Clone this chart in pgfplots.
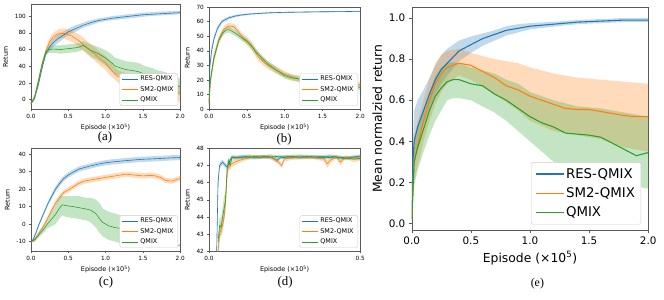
\documentclass[border=0pt]{standalone}
\usepackage{fontspec}
\setmainfont{DejaVu Sans}
\newfontfamily\capfont{Liberation Serif}
\usepackage{pgfplots}
\usepackage{pgfplotstable}
\pgfplotsset{compat=1.18}
\usepgfplotslibrary{fillbetween}
\definecolor{myblue}{HTML}{1F77B4}
\definecolor{myorange}{HTML}{FF7F0E}
\definecolor{mygreen}{HTML}{2CA02C}

% ---------- (a) ----------
\pgfplotstableread{
x m lo hi
0.00 -5 -6 -4
0.05 2 0 4
0.10 18 15 21
0.15 38 35 41
0.20 55 52 58
0.25 63 59 67
0.30 68 63 73
0.35 72 67 77
0.40 75 70 80
0.45 78 74 82
0.50 81 77 85
0.55 83 79 87
0.60 85 81 89
0.70 89 86 92
0.80 92 89 95
0.90 94.5 92 97
1.00 96 94 98.5
1.10 97.5 95 100
1.20 98.5 96 101
1.30 99.5 97 102
1.40 100.5 98 103
1.50 101.5 99 104
1.60 102 100 104.5
1.70 102.5 100.5 105
1.80 103 101 105.5
1.90 103.5 101.5 106
2.00 104 102 106
}\aB
\pgfplotstableread{
x m lo hi
0.00 -5 -6 -4
0.05 3 0 6
0.10 22 18 26
0.15 42 38 46
0.20 58 54 62
0.25 69 64 74
0.30 75 70 80
0.35 78 73 83
0.40 79.5 74 85
0.45 79 73 85
0.50 77.5 71 84
0.55 76 69 83
0.60 73 66 80
0.65 70 62 78
0.70 66 58 74
0.78 60 52 68
0.85 55 47 63
0.91 50 42 58
1.00 44 36 52
1.05 38 30 46
1.10 33 26 41
1.16 28 21 35
1.27 24 16 32
1.40 20 12 28
1.50 18 10 26
1.60 16 7 25
1.70 14 5 23
1.80 12 3 21
1.90 10 1 20
2.00 8 -3 18
}\aO
\pgfplotstableread{
x m lo hi
0.00 -5 -6 -4
0.05 3 0 6
0.10 22 18 26
0.15 42 38 46
0.20 57 54 60
0.25 60 56 64
0.30 60.5 56 65
0.40 60 55 65
0.50 61 56 66
0.60 62 57 67
0.65 63 58 68
0.70 65 60 70
0.75 62 56 68
0.80 59 52 66
0.90 55 47 63
1.00 50 41 59
1.07 45 35 55
1.13 40 30 50
1.20 38 28 48
1.27 36 26 46
1.35 35 25 45
1.44 33.5 23 44
1.53 30 20 40
1.62 28 18 38
1.70 25 15 35
1.80 23 13 33
1.90 19 9 29
2.00 15 5 25
}\aG

% ---------- (b) ----------
\pgfplotstableread{
x m lo hi
0.000 5 4 6
0.013 30 27 33
0.035 40 37 43
0.065 48 46 50
0.11 55 53.5 56.5
0.17 60 59 61
0.26 62.5 61.5 63.5
0.35 63.8 63 64.6
0.43 64.5 63.8 65.2
0.55 65.2 64.6 65.8
0.65 65.5 65 66
0.80 66 65.5 66.5
1.00 66.3 65.9 66.7
1.25 66.5 66.1 66.9
1.50 66.7 66.3 67.1
1.75 66.8 66.4 67.2
2.00 67 66.6 67.4
}\bB
\pgfplotstableread{
x m lo hi
0.000 4 3 5
0.02 20 17 23
0.065 35 32 38
0.13 48 46 50
0.20 55 53 57
0.26 57 55 59
0.33 56.5 54.5 58.5
0.39 53 51 55
0.45 49 47 51.5
0.50 47 44.5 49.5
0.57 43 40 46
0.65 36 33 39
0.72 32.5 30 35
0.78 30 27.5 32.5
0.90 26.5 24 29
1.00 24 22 26
1.10 22 20 24
1.22 20.5 18.5 22.5
1.35 20 18 22
1.50 19.5 17.5 21.5
1.60 19 17 21.5
1.74 18 16 20
1.87 17.5 15.5 19.5
2.00 17 15 19
}\bO
\pgfplotstableread{
x m lo hi
0.000 4 3 5
0.02 20 17 23
0.065 35 32 38
0.13 47 45 49
0.18 52 50 54
0.22 54 52 56
0.26 54.5 52.5 56.5
0.30 53.5 51.5 55.5
0.35 52 50 54
0.43 49 47 51
0.50 46.5 44.5 48.5
0.55 44 42 46
0.61 40 38 42
0.70 35 33 37
0.78 31 29 33
0.90 26.5 24.5 28.5
1.00 23 21 25
1.10 21.5 19.5 23.5
1.22 20.5 18.5 22.5
1.35 19.5 17.5 21.5
1.50 18.5 16.5 20.5
1.62 17.5 15.5 19.5
1.74 17 15 19
1.87 16 14 18
2.00 15 13 17
}\bG

% ---------- (c) ----------
\pgfplotstableread{
x m lo hi
0.00 -10 -10.5 -9.5
0.03 -9 -10 -8
0.067 -5 -6 -4
0.11 0 -1 1
0.16 5 4 6
0.22 11 10 12
0.28 16 14.5 17.5
0.33 20 18.5 21.5
0.39 23.5 22 25
0.44 26 24.5 27.5
0.50 28 26.5 29.5
0.56 29.5 28 31
0.65 31.5 30 33
0.78 33 31.5 34.5
0.90 34.2 32.7 35.7
1.00 35 33.5 36.5
1.10 35.5 34 37
1.22 36 34.5 37.5
1.35 36.5 35 38
1.50 37 35.5 38.5
1.62 37.2 35.7 38.7
1.76 37.5 36 39
1.88 37.8 36.3 39.3
2.00 38 36.5 39.5
}\cB
\pgfplotstableread{
x m lo hi
0.00 -10 -10.5 -9.5
0.05 -9 -10 -8
0.11 -5 -6 -4
0.17 -1 -2 0
0.22 3 2 4
0.28 8 6.5 9.5
0.33 12 10.5 13.5
0.39 15.5 14 17
0.44 18 16.5 19.5
0.50 19.5 18 21
0.56 21 19.5 22.5
0.63 23 21.5 24.5
0.71 24.5 23 26
0.80 25.2 23.7 26.7
0.91 26 24.5 27.5
1.02 26.8 25.3 28.3
1.13 27.5 26 29
1.20 28 26.5 29.5
1.27 28.5 27 30
1.38 28 26.5 29.5
1.50 27.5 26 29
1.60 27.8 26.3 29.3
1.67 27.5 26 29
1.74 26.5 25 28
1.80 25 23.5 26.5
1.89 24.5 23 26
1.95 25.5 24 27
2.00 26 24.5 27.5
}\cO
\pgfplotstableread{
x m lo hi
0.00 -10 -10.5 -9.5
0.05 -9 -10 -8
0.11 -6 -7.5 -4.5
0.17 -3 -5 -1
0.22 0 -2.5 2.5
0.28 3 -1 7
0.33 5.5 0 11
0.38 9 3 15
0.42 11 5 16
0.48 10.5 4 16
0.56 10 3.5 16
0.63 9.5 3 16
0.69 9 2.5 15.5
0.75 8.5 2 15
0.80 8 1 15
0.87 6 -2 14
0.92 3 -5 12
0.96 1 -7 9
1.04 -1 -9 7
1.13 -2 -10 6
1.20 -2.5 -11 5
1.27 -3 -12 4
1.35 -5 -12.5 2
1.42 -7.5 -12.5 -1
1.50 -10 -12.5 -6
1.60 -11.5 -12.5 -10
1.70 -12 -12.5 -11.5
1.80 -12 -12.5 -11.5
1.90 -12 -12.5 -11.5
2.00 -12 -12.5 -11.5
}\cG

% ---------- (d) ----------
\pgfplotstableread{
x m lo hi
0.025 41.5 41.3 41.7
0.030 46 45.6 46.4
0.035 47 46.8 47.2
0.045 47.2 47.05 47.35
0.055 47 46.85 47.15
0.060 46.9 46.75 47.05
0.065 47.1 46.95 47.25
0.075 47.5 47.4 47.6
0.085 47.45 47.35 47.55
0.10 47.5 47.4 47.6
0.12 47.5 47.4 47.6
0.15 47.45 47.35 47.55
0.18 47.5 47.4 47.6
0.21 47.45 47.35 47.55
0.225 47.3 47.15 47.45
0.235 47.45 47.35 47.55
0.26 47.5 47.4 47.6
0.30 47.45 47.35 47.55
0.34 47.5 47.4 47.6
0.38 47.45 47.35 47.55
0.42 47.5 47.4 47.6
0.45 47.45 47.35 47.55
0.48 47.5 47.4 47.6
0.50 47.55 47.45 47.65
}\dB
\pgfplotstableread{
x m lo hi
0.028 41.5 41.3 41.7
0.035 43 42.6 43.4
0.040 43.3 42.9 43.7
0.045 43.5 43.1 43.9
0.050 44 43.6 44.4
0.055 45 44.5 45.5
0.060 46.5 46.1 46.9
0.065 47 46.7 47.3
0.075 47.1 46.9 47.3
0.085 47.2 47.0 47.4
0.10 47.3 47.15 47.45
0.12 47.4 47.3 47.5
0.15 47.5 47.4 47.6
0.20 47.5 47.4 47.6
0.225 47.3 47.15 47.45
0.24 47.0 46.85 47.15
0.25 47.4 47.25 47.55
0.30 47.5 47.4 47.6
0.35 47.45 47.35 47.55
0.38 47.4 47.25 47.55
0.39 47.1 46.85 47.3
0.40 47.3 47.1 47.45
0.42 47.5 47.4 47.6
0.435 47.2 47.0 47.35
0.45 47.5 47.4 47.6
0.48 47.35 47.2 47.5
0.50 47.45 47.3 47.6
}\dO
\pgfplotstableread{
x m lo hi
0.030 42.5 42.2 42.8
0.035 43.5 43.0 44.0
0.040 43.4 42.9 43.9
0.045 44 43.4 44.6
0.050 44.5 43.8 45.2
0.055 45 44.5 45.5
0.060 46.8 46.4 47.2
0.065 47.3 47.1 47.5
0.070 47.0 46.7 47.3
0.075 47.4 47.3 47.5
0.08 47.5 47.4 47.6
0.10 47.45 47.35 47.55
0.13 47.55 47.45 47.65
0.17 47.5 47.4 47.6
0.20 47.55 47.45 47.65
0.25 47.5 47.4 47.6
0.30 47.55 47.45 47.65
0.35 47.5 47.4 47.6
0.40 47.55 47.45 47.65
0.45 47.4 47.3 47.5
0.48 47.45 47.35 47.55
0.50 47.4 47.3 47.5
}\dG

% ---------- (e) ----------
\pgfplotstableread{
x m lo hi
0.00 0.02 0.01 0.03
0.01 0.30 0.22 0.40
0.02 0.40 0.32 0.55
0.05 0.47 0.39 0.60
0.10 0.55 0.48 0.65
0.15 0.63 0.56 0.71
0.20 0.70 0.63 0.77
0.25 0.75 0.68 0.82
0.30 0.78 0.72 0.85
0.40 0.84 0.79 0.89
0.50 0.87 0.83 0.91
0.60 0.90 0.865 0.925
0.70 0.92 0.89 0.94
0.80 0.94 0.915 0.96
0.90 0.95 0.93 0.97
1.00 0.96 0.945 0.975
1.20 0.97 0.958 0.982
1.40 0.98 0.97 0.99
1.60 0.985 0.975 0.995
1.80 0.99 0.98 1.0
2.00 0.99 0.98 1.0
}\eB
\pgfplotstableread{
x m lo hi
0.00 0.02 0.01 0.03
0.02 0.30 0.20 0.42
0.05 0.38 0.28 0.50
0.10 0.50 0.40 0.60
0.15 0.60 0.50 0.70
0.20 0.68 0.58 0.78
0.25 0.73 0.64 0.82
0.30 0.76 0.68 0.84
0.40 0.78 0.72 0.85
0.50 0.77 0.70 0.83
0.60 0.74 0.665 0.815
0.70 0.71 0.63 0.80
0.80 0.67 0.59 0.79
0.90 0.65 0.55 0.78
1.00 0.62 0.50 0.76
1.10 0.60 0.475 0.745
1.20 0.58 0.45 0.73
1.30 0.56 0.44 0.72
1.40 0.555 0.43 0.71
1.50 0.555 0.42 0.705
1.60 0.545 0.41 0.70
1.70 0.535 0.39 0.695
1.80 0.525 0.37 0.69
1.90 0.52 0.36 0.685
2.00 0.52 0.35 0.68
}\eO
\pgfplotstableread{
x m lo hi
0.00 0.02 0.01 0.03
0.02 0.30 0.18 0.40
0.05 0.37 0.26 0.47
0.10 0.46 0.35 0.55
0.15 0.55 0.43 0.64
0.20 0.62 0.50 0.72
0.25 0.66 0.55 0.76
0.30 0.69 0.60 0.78
0.35 0.70 0.61 0.785
0.40 0.70 0.61 0.78
0.50 0.68 0.60 0.76
0.60 0.67 0.57 0.745
0.70 0.63 0.54 0.73
0.80 0.60 0.50 0.70
0.90 0.56 0.45 0.68
1.00 0.52 0.40 0.64
1.10 0.49 0.35 0.62
1.20 0.47 0.30 0.60
1.30 0.44 0.285 0.585
1.40 0.435 0.27 0.57
1.50 0.43 0.26 0.565
1.60 0.42 0.24 0.56
1.70 0.39 0.22 0.55
1.80 0.36 0.20 0.54
1.90 0.33 0.18 0.53
2.00 0.345 0.17 0.52
}\eG

\newcommand{\band}[3]{%
  \addplot[name path=u#3,draw=none,forget plot] table[x=x,y=hi]{#1};
  \addplot[name path=l#3,draw=none,forget plot] table[x=x,y=lo]{#1};
  \addplot[fill=#2,fill opacity=0.28,draw=none,forget plot] fill between[of=u#3 and l#3];
}

\pgfplotsset{
  base/.style={
    scale only axis,
    axis line style={black!65},
    tick style={black!65},
    tick align=outside,
    tick pos=left,
    /pgf/number format/assume math mode=true,
    xticklabel style={/pgf/number format/.cd,fixed,fixed zerofill,precision=1},
    xlabel={Episode (×10\textsuperscript{5})},
    legend cell align=left,
    legend style={draw=black!20, rounded corners=1.5pt, fill=white},
  },
  small/.style={
    base,
    major tick length=1.6pt,
    axis line style={line width=0.45pt},
    tick style={line width=0.45pt},
    ticklabel style={font=\fontsize{5.8}{6.8}\selectfont},
    label style={font=\fontsize{6.5}{7.5}\selectfont},
    xlabel shift=-1.5pt,
    ylabel={Return},
    xmin=0, xmax=2, xtick={0,0.5,1,1.5,2},
    legend style={font=\fontsize{6.5}{7.5}\selectfont, at={(0.985,0.035)}, anchor=south east,
      inner xsep=2.5pt, inner ysep=1pt, row sep=2pt, nodes={inner xsep=1.8pt, inner ysep=1.2pt}},
    every axis plot/.append style={line width=0.6pt},
  },
}

\begin{document}
\begin{tikzpicture}
\path (0,0) rectangle (664pt,303pt);

% (a)
\begin{axis}[small, at={(24pt,192.5pt)}, anchor=south west, width=151pt, height=106pt,
  ymin=-11.5, ymax=113.8, ytick={0,20,40,60,80,100},
  legend image code/.code={\draw[#1] (0pt,0pt) -- (16pt,0pt);}]
\band{\aB}{myblue}{b}\band{\aO}{myorange}{o}\band{\aG}{mygreen}{g}
\addplot[draw=myblue] table[x=x,y=m]{\aB};
\addplot[draw=myorange] table[x=x,y=m]{\aO};
\addplot[draw=mygreen] table[x=x,y=m]{\aG};
\legend{RES-QMIX,SM2-QMIX,QMIX}
\end{axis}

% (b)
\begin{axis}[small, at={(204pt,192.5pt)}, anchor=south west, width=153pt, height=103.5pt,
  ymin=0, ymax=70, ytick={0,10,...,70},
  legend image code/.code={\draw[#1] (0pt,0pt) -- (16pt,0pt);}]
\band{\bB}{myblue}{b}\band{\bO}{myorange}{o}\band{\bG}{mygreen}{g}
\addplot[draw=myblue] table[x=x,y=m]{\bB};
\addplot[draw=myorange] table[x=x,y=m]{\bO};
\addplot[draw=mygreen] table[x=x,y=m]{\bG};
\legend{RES-QMIX,SM2-QMIX,QMIX}
\end{axis}

% (c)
\begin{axis}[small, at={(24pt,49pt)}, anchor=south west, width=151pt, height=104pt,
  ymin=-15.5, ymax=43.2, ytick={-10,0,10,20,30,40},
  legend image code/.code={\draw[#1] (0pt,0pt) -- (16pt,0pt);}]
\band{\cB}{myblue}{b}\band{\cO}{myorange}{o}\band{\cG}{mygreen}{g}
\addplot[draw=myblue] table[x=x,y=m]{\cB};
\addplot[draw=myorange] table[x=x,y=m]{\cO};
\addplot[draw=mygreen] table[x=x,y=m]{\cG};
\legend{RES-QMIX,SM2-QMIX,QMIX}
\end{axis}

% (d)
\begin{axis}[small, at={(204pt,49pt)}, anchor=south west, width=153pt, height=104pt,
  xmin=0, xmax=0.5, xtick={0,0.5},
  ymin=42, ymax=48, ytick={42,...,48},
  legend image code/.code={\draw[#1] (0pt,0pt) -- (16pt,0pt);}]
\band{\dB}{myblue}{b}\band{\dO}{myorange}{o}\band{\dG}{mygreen}{g}
\addplot[draw=myblue] table[x=x,y=m]{\dB};
\addplot[draw=myorange] table[x=x,y=m]{\dO};
\addplot[draw=mygreen] table[x=x,y=m]{\dG};
\legend{RES-QMIX,SM2-QMIX,QMIX}
\end{axis}

% (e)
\begin{axis}[base, at={(409pt,70pt)}, anchor=south west, width=239pt, height=226pt,
  major tick length=3pt,
  ticklabel style={font=\fontsize{10.5}{12}\selectfont},
  label style={font=\fontsize{12.5}{14}\selectfont},
  ylabel={Mean normalzied return},
  xmin=0, xmax=2, xtick={0,0.5,1,1.5,2},
  ymin=-0.034, ymax=1.054, ytick={0,0.2,0.4,0.6,0.8,1.0},
  yticklabel style={/pgf/number format/.cd,fixed,fixed zerofill,precision=1},
  legend style={font=\fontsize{13.5}{15}\selectfont, at={(0.97,0.027)}, anchor=south east,
    inner xsep=4pt, inner ysep=4pt, row sep=4pt, nodes={inner xsep=2pt, inner ysep=2pt}},
  legend image code/.code={\draw[#1] (0pt,0pt) -- (28pt,0pt);},
  every axis plot/.append style={line width=1.1pt}]
\band{\eB}{myblue}{b}\band{\eO}{myorange}{o}\band{\eG}{mygreen}{g}
\addplot[draw=myblue] table[x=x,y=m]{\eB};
\addplot[draw=myorange] table[x=x,y=m]{\eO};
\addplot[draw=mygreen] table[x=x,y=m]{\eG};
\legend{RES-QMIX,SM2-QMIX,QMIX}
\end{axis}

\node[font=\capfont\fontsize{13}{15}\selectfont] at (99pt,164pt) {(a)};
\node[font=\capfont\fontsize{13}{15}\selectfont] at (280pt,162pt) {(b)};
\node[font=\capfont\fontsize{13}{15}\selectfont] at (100pt,18pt) {(c)};
\node[font=\capfont\fontsize{13}{15}\selectfont] at (281pt,17.5pt) {(d)};
\node[font=\capfont\fontsize{12}{14}\selectfont] at (536pt,16.5pt) {(e)};
\end{tikzpicture}
\end{document}
